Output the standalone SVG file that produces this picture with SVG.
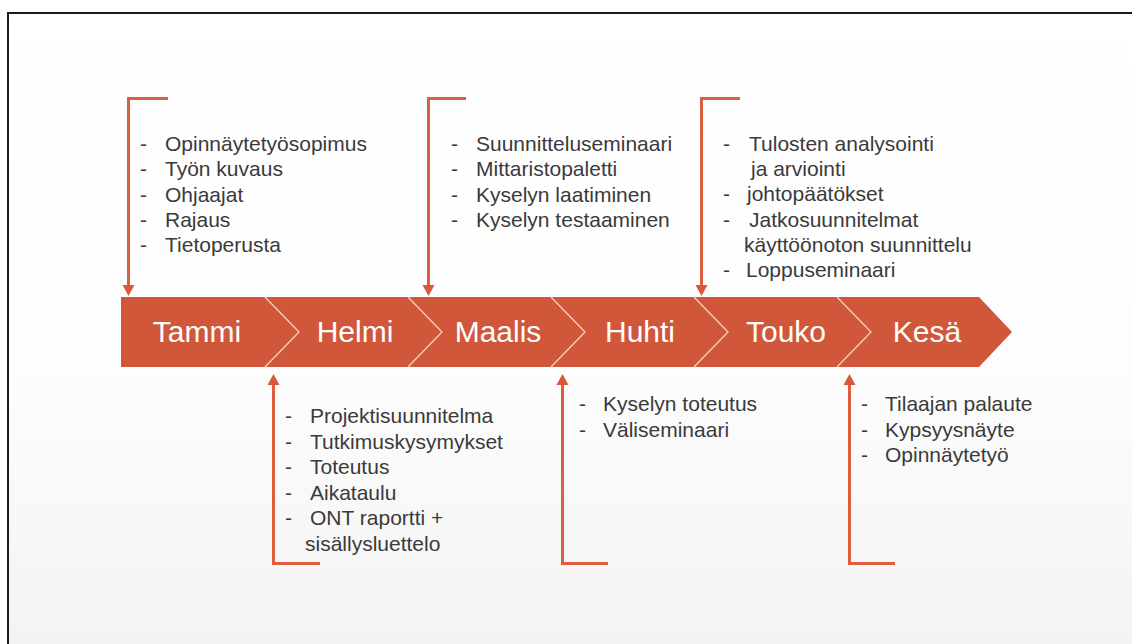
<svg xmlns="http://www.w3.org/2000/svg" width="1132" height="644" viewBox="0 0 1132 644">
<defs>
<linearGradient id="bg" x1="0" y1="0" x2="0" y2="1">
<stop offset="0" stop-color="#ffffff"/>
<stop offset="0.55" stop-color="#fdfdfd"/>
<stop offset="1" stop-color="#f3f3f3"/>
</linearGradient>
<style>
.br{fill:none;stroke:#DC5E3F;stroke-width:3}
.ah{fill:#D9583A}
.t{font-family:"Liberation Sans",Arial,sans-serif;font-size:21px;fill:#3a3a3a}
.m{font-family:"Liberation Sans",Arial,sans-serif;font-size:30px;fill:#ffffff;text-anchor:middle}
.dv{fill:none;stroke:#F5D3C3;stroke-width:1.3}
</style>
</defs>
<rect x="0" y="0" width="1132" height="644" fill="#ffffff"/>
<rect x="8" y="13" width="1130" height="640" fill="url(#bg)" stroke="#1a1a1a" stroke-width="2"/>

<g id="timeline">
<path d="M121,297 L979,297 L1012,332 L979,367 L121,367 Z" fill="#D0573A"/>
<path class="dv" d="M265,297 L299,332 L265,367"/>
<path class="dv" d="M408,297 L442,332 L408,367"/>
<path class="dv" d="M551,297 L585,332 L551,367"/>
<path class="dv" d="M694,297 L728,332 L694,367"/>
<path class="dv" d="M837,297 L871,332 L837,367"/>
</g>
<g id="m-tammi"><text class="m" x="197" y="342">Tammi</text></g>
<g id="m-helmi"><text class="m" x="355" y="342">Helmi</text></g>
<g id="m-maalis"><text class="m" x="498" y="342">Maalis</text></g>
<g id="m-huhti"><text class="m" x="640" y="342">Huhti</text></g>
<g id="m-touko"><text class="m" x="786" y="342">Touko</text></g>
<g id="m-kesa"><text class="m" x="927" y="342">Kesä</text></g>

<g id="connectors">
<path class="br" d="M168,98.5 L128.5,98.5 L128.5,286"/>
<path class="ah" d="M122.5,285 L134.5,285 L128.5,296 Z"/>
<path class="br" d="M466,98.5 L428.5,98.5 L428.5,286"/>
<path class="ah" d="M422.5,285 L434.5,285 L428.5,296 Z"/>
<path class="br" d="M740,98.5 L701.5,98.5 L701.5,286"/>
<path class="ah" d="M695.5,285 L707.5,285 L701.5,296 Z"/>

<path class="br" d="M320,563.5 L273.5,563.5 L273.5,384"/>
<path class="ah" d="M267.5,385 L279.5,385 L273.5,374 Z"/>
<path class="br" d="M608,563.5 L562.5,563.5 L562.5,384"/>
<path class="ah" d="M556.5,385 L568.5,385 L562.5,374 Z"/>
<path class="br" d="M895,563.5 L849.5,563.5 L849.5,384"/>
<path class="ah" d="M843.5,385 L855.5,385 L849.5,374 Z"/>
</g>

<g id="list-tammi">
<text class="t" x="140" y="151">-</text><text class="t" x="165" y="151">Opinnäytetyösopimus</text>
<text class="t" x="140" y="176">-</text><text class="t" x="165" y="176">Työn kuvaus</text>
<text class="t" x="140" y="201.5">-</text><text class="t" x="165" y="201.5">Ohjaajat</text>
<text class="t" x="140" y="227">-</text><text class="t" x="165" y="227">Rajaus</text>
<text class="t" x="140" y="252">-</text><text class="t" x="165" y="252">Tietoperusta</text>
</g>

<g id="list-maalis">
<text class="t" x="451" y="151">-</text><text class="t" x="476" y="151">Suunnitteluseminaari</text>
<text class="t" x="451" y="176">-</text><text class="t" x="476" y="176">Mittaristopaletti</text>
<text class="t" x="451" y="201.5">-</text><text class="t" x="476" y="201.5">Kyselyn laatiminen</text>
<text class="t" x="451" y="227">-</text><text class="t" x="476" y="227">Kyselyn testaaminen</text>
</g>

<g id="list-touko">
<text class="t" x="723" y="151">-</text><text class="t" x="749" y="151">Tulosten analysointi</text>
<text class="t" x="751" y="176">ja arviointi</text>
<text class="t" x="723" y="201">-</text><text class="t" x="747" y="201">johtopäätökset</text>
<text class="t" x="723" y="227">-</text><text class="t" x="749" y="227">Jatkosuunnitelmat</text>
<text class="t" x="744" y="252">käyttöönoton suunnittelu</text>
<text class="t" x="723" y="277">-</text><text class="t" x="746" y="277">Loppuseminaari</text>
</g>

<g id="list-helmi">
<text class="t" x="285" y="423">-</text><text class="t" x="310" y="423">Projektisuunnitelma</text>
<text class="t" x="285" y="448.5">-</text><text class="t" x="310" y="448.5">Tutkimuskysymykset</text>
<text class="t" x="285" y="474">-</text><text class="t" x="310" y="474">Toteutus</text>
<text class="t" x="285" y="499.5">-</text><text class="t" x="310" y="499.5">Aikataulu</text>
<text class="t" x="285" y="525">-</text><text class="t" x="310" y="525">ONT raportti +</text>
<text class="t" x="305" y="550.5">sisällysluettelo</text>
</g>

<g id="list-huhti">
<text class="t" x="579" y="411">-</text><text class="t" x="603" y="411">Kyselyn toteutus</text>
<text class="t" x="579" y="436.5">-</text><text class="t" x="603" y="436.5">Väliseminaari</text>
</g>

<g id="list-kesa">
<text class="t" x="861" y="411">-</text><text class="t" x="885" y="411">Tilaajan palaute</text>
<text class="t" x="861" y="436.5">-</text><text class="t" x="885" y="436.5">Kypsyysnäyte</text>
<text class="t" x="861" y="462">-</text><text class="t" x="885" y="462">Opinnäytetyö</text>
</g>
</svg>
